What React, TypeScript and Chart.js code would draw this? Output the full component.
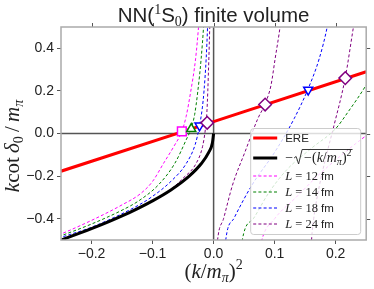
import React, { useEffect, useRef } from "react";
import { Chart, registerables } from "chart.js";
Chart.register(...registerables);

// ---------- axes ----------
const X_MIN = -0.25;
const X_MAX = 0.25;
const Y_MIN = -0.5;
const Y_MAX = 0.5;
const xTicks = [-0.2, -0.1, 0.0, 0.1, 0.2];
const xTickLabels = ["\u22120.2", "\u22120.1", "0.0", "0.1", "0.2"];
const yTicks = [-0.4, -0.2, 0.0, 0.2, 0.4];
const yTickLabels = ["\u22120.4", "\u22120.2", "0.0", "0.2", "0.4"];

// ---------- ERE (effective range expansion) ----------
const ereX = [-0.25, 0.0, 0.25];
const ereY = [-0.177, 0.056, 0.29];

// ---------- bound-state curve -sqrt(-(k/m)^2) ----------
const boundX = [-0.26, -0.25, -0.2, -0.15, -0.1, -0.07, -0.04, -0.02, -0.008, -0.002, 0.0];
const boundY = [-0.51, -0.5, -0.447, -0.387, -0.316, -0.265, -0.2, -0.141, -0.089, -0.045, 0.0];

// ---------- L = 12 fm ----------
const l12LeftX = [-0.27, -0.25, -0.2, -0.15, -0.12, -0.1, -0.082, -0.065, -0.052, -0.045, -0.0376, -0.0295, -0.0245, -0.0222];
const l12LeftY = [-0.495, -0.472, -0.408, -0.335, -0.283, -0.225, -0.14, -0.06, 0.01, 0.08, 0.195, 0.351, 0.507, 0.6];
const l12RightX = [0.074, 0.079, 0.1, 0.135, 0.17, 0.21, 0.25, 0.26];
const l12RightY = [-0.58, -0.5, -0.4, -0.3, -0.2, -0.1, -0.01, 0.01];

// ---------- L = 14 fm ----------
const l14LeftX = [-0.27, -0.25, -0.2, -0.15, -0.1226, -0.09, -0.0635, -0.045, -0.0366, -0.031, -0.0262, -0.0204, -0.0163, -0.0145];
const l14LeftY = [-0.5, -0.48, -0.425, -0.36, -0.316, -0.24, -0.14, -0.03, 0.025, 0.09, 0.19, 0.351, 0.507, 0.6];
const l14RightX = [0.0445, 0.047, 0.0656, 0.09, 0.12, 0.16, 0.2, 0.22, 0.25, 0.26];
const l14RightY = [-0.58, -0.5, -0.398, -0.28, -0.17, -0.07, 0.023, 0.1, 0.228, 0.28];

// ---------- L = 18 fm ----------
const l18LeftX = [-0.27, -0.25, -0.2, -0.1226, -0.101, -0.07, -0.0446, -0.03, -0.023, -0.0185, -0.0157, -0.0122, -0.0099, -0.0088];
const l18LeftY = [-0.51, -0.488, -0.44, -0.336, -0.297, -0.225, -0.14, -0.05, 0.037, 0.12, 0.2, 0.35, 0.5, 0.6];
const l18RightX = [0.0175, 0.0199, 0.0334, 0.0629, 0.1005, 0.132, 0.155, 0.173, 0.1866, 0.192];
const l18RightY = [-0.6, -0.5, -0.398, -0.242, -0.086, 0.07, 0.211, 0.351, 0.507, 0.6];

// ---------- L = 24 fm ----------
const l24LeftX = [-0.27, -0.25, -0.15, -0.1, -0.07, -0.05, -0.0285, -0.018, -0.0135, -0.011, -0.0095, -0.0078, -0.0063, -0.0055];
const l24LeftY = [-0.52, -0.5, -0.387, -0.315, -0.262, -0.21, -0.14, -0.06, 0.02, 0.1, 0.2, 0.35, 0.5, 0.6];
const l24MidX = [0.004, 0.0065, 0.0165, 0.031, 0.0515, 0.0725, 0.084, 0.094, 0.1008, 0.1092, 0.113];
const l24MidY = [-0.6, -0.5, -0.398, -0.242, -0.086, 0.07, 0.137, 0.226, 0.351, 0.507, 0.6];
const l24RightX = [0.159, 0.1605, 0.164, 0.173, 0.185, 0.197, 0.2157, 0.2295, 0.235];
const l24RightY = [-0.6, -0.5, -0.4, -0.25, -0.1, 0.035, 0.262, 0.507, 0.6];

// ---------- intersections (markers) ----------
const l12MarkX = [-0.052];
const l12MarkY = [0.01];
const l14MarkX = [-0.0366];
const l14MarkY = [0.022];
const l18MarkX = [-0.023, 0.155];
const l18MarkY = [0.037, 0.205];
const l24MarkX = [-0.0105, 0.0844, 0.2157];
const l24MarkY = [0.05, 0.136, 0.26];

// ---------- legend ----------
const boxSizes = ["12", "14", "18", "24"];
const lColors = ["#ff00ff", "#008000", "#0000ff", "#800080"];

const SANS = '"Liberation Sans", Arial, sans-serif';
const SERIF = '"Liberation Serif", "DejaVu Serif", serif';
const DASH = [3, 2.2];

const pts = (xs: number[], ys: number[]) => xs.map((x, i) => ({ x, y: ys[i] }));

type Run = { t: string; f: string; dy?: number };
function runsWidth(ctx: CanvasRenderingContext2D, runs: Run[]) {
  let w = 0;
  for (const r of runs) {
    ctx.font = r.f;
    w += ctx.measureText(r.t).width;
  }
  return w;
}
function drawRuns(ctx: CanvasRenderingContext2D, runs: Run[], x: number, y: number) {
  let cx = x;
  for (const r of runs) {
    ctx.font = r.f;
    ctx.fillText(r.t, cx, y + (r.dy || 0));
    cx += ctx.measureText(r.t).width;
  }
  return cx;
}

const curve = (data: any, color: string) => ({
  data,
  showLine: true,
  borderColor: color,
  borderWidth: 1,
  borderDash: DASH,
  pointRadius: 0,
  cubicInterpolationMode: "monotone",
  clip: 0,
});

const decor = {
  id: "decor",
  beforeDatasetsDraw(chart: any) {
    const { ctx, chartArea: a, scales } = chart;
    const x0 = scales.x.getPixelForValue(0);
    const y0 = scales.y.getPixelForValue(0);
    ctx.save();
    ctx.strokeStyle = "#555";
    ctx.lineWidth = 1.5;
    ctx.beginPath();
    ctx.moveTo(a.left, y0);
    ctx.lineTo(a.right, y0);
    ctx.moveTo(x0, a.top);
    ctx.lineTo(x0, a.bottom);
    ctx.stroke();
    ctx.restore();
  },
  afterDatasetsDraw(chart: any) {
    const { ctx, chartArea: a } = chart;
    const L = a.right - 116;
    const T = a.bottom - 112;
    const W = 110;
    const H = 106;
    ctx.save();
    ctx.fillStyle = "rgba(255,255,255,0.8)";
    ctx.strokeStyle = "#cccccc";
    ctx.lineWidth = 1;
    ctx.beginPath();
    ctx.roundRect(L + 0.5, T + 0.5, W, H, 3);
    ctx.fill();
    ctx.stroke();

    const rows = [10, 30, 48, 64, 80, 96];
    const hx0 = L + 3;
    const hx1 = L + 27;
    const tx = L + 35;
    ctx.fillStyle = "#222";
    ctx.textBaseline = "alphabetic";

    // ERE
    ctx.setLineDash([]);
    ctx.lineWidth = 3;
    ctx.strokeStyle = "#ff0000";
    ctx.beginPath();
    ctx.moveTo(hx0, T + rows[0]);
    ctx.lineTo(hx1, T + rows[0]);
    ctx.stroke();
    ctx.font = `11.5px ${SANS}`;
    ctx.fillText("ERE", tx, T + rows[0] + 4);

    // bound
    ctx.strokeStyle = "#000";
    ctx.beginPath();
    ctx.moveTo(hx0, T + rows[1]);
    ctx.lineTo(hx1, T + rows[1]);
    ctx.stroke();
    const by = T + rows[1] + 4;
    const cx = drawRuns(ctx, [{ t: "\u2212", f: `14px ${SERIF}` }], tx, by);
    const rx = cx + 1;
    const inner: Run[] = [
      { t: "\u2212(", f: `14px ${SERIF}` },
      { t: "k", f: `italic 14px ${SERIF}` },
      { t: "/", f: `14px ${SERIF}` },
      { t: "m", f: `italic 14px ${SERIF}` },
      { t: "\u03c0", f: `italic 10px ${SERIF}`, dy: 3 },
      { t: ")", f: `14px ${SERIF}` },
      { t: "2", f: `10px ${SERIF}`, dy: -6 },
    ];
    const iw = runsWidth(ctx, inner);
    ctx.lineWidth = 0.9;
    ctx.strokeStyle = "#222";
    ctx.beginPath();
    ctx.moveTo(rx, by - 4);
    ctx.lineTo(rx + 2, by - 5.5);
    ctx.lineTo(rx + 4.5, by + 2);
    ctx.lineTo(rx + 8, by - 12.5);
    ctx.lineTo(rx + 10 + iw + 1, by - 12.5);
    ctx.stroke();
    drawRuns(ctx, inner, rx + 10, by);

    // L entries
    for (let i = 0; i < boxSizes.length; i++) {
      const yy = T + rows[2 + i];
      ctx.strokeStyle = lColors[i];
      ctx.lineWidth = 1;
      ctx.setLineDash(DASH);
      ctx.beginPath();
      ctx.moveTo(hx0, yy);
      ctx.lineTo(hx1, yy);
      ctx.stroke();
      ctx.setLineDash([]);
      drawRuns(
        ctx,
        [
          { t: "L", f: `italic 12.5px ${SERIF}` },
          { t: " = " + boxSizes[i] + " ", f: `12.5px ${SERIF}` },
          { t: "fm", f: `11.5px ${SANS}` },
        ],
        tx,
        yy + 4
      );
    }
    ctx.restore();
  },
  afterDraw(chart: any) {
    const { ctx, chartArea: a, scales } = chart;
    ctx.save();
    // mirrored ticks
    ctx.strokeStyle = "#555";
    ctx.lineWidth = 1;
    ctx.beginPath();
    for (const v of xTicks) {
      const px = Math.round(scales.x.getPixelForValue(v)) + 0.5;
      ctx.moveTo(px, a.top - 4);
      ctx.lineTo(px, a.top);
    }
    for (const v of yTicks) {
      const py = Math.round(scales.y.getPixelForValue(v)) + 0.5;
      ctx.moveTo(a.right, py);
      ctx.lineTo(a.right + 4, py);
    }
    ctx.stroke();
    // frame
    ctx.strokeStyle = "#aaaaaa";
    ctx.lineWidth = 1.5;
    ctx.strokeRect(a.left, a.top, a.right - a.left, a.bottom - a.top);

    ctx.fillStyle = "#222";
    ctx.textBaseline = "alphabetic";
    // title
    const cxm = (a.left + a.right) / 2;
    const title: Run[] = [
      { t: "NN(", f: `20.5px ${SANS}` },
      { t: "1", f: `14px ${SERIF}`, dy: -8 },
      { t: "S", f: `20.5px ${SANS}` },
      { t: "0", f: `14px ${SERIF}`, dy: 4 },
      { t: ") finite volume", f: `20.5px ${SANS}` },
    ];
    drawRuns(ctx, title, cxm - runsWidth(ctx, title) / 2, 22);

    // x label
    const xl: Run[] = [
      { t: "(", f: `21px ${SERIF}` },
      { t: "k", f: `italic 21px ${SERIF}` },
      { t: "/", f: `21px ${SERIF}` },
      { t: "m", f: `italic 21px ${SERIF}` },
      { t: "\u03c0", f: `italic 14px ${SERIF}`, dy: 4 },
      { t: ")", f: `21px ${SERIF}` },
      { t: "2", f: `14px ${SERIF}`, dy: -9 },
    ];
    drawRuns(ctx, xl, cxm - runsWidth(ctx, xl) / 2, 278);

    // y label
    const yl: Run[] = [
      { t: "k", f: `italic 21px ${SERIF}` },
      { t: "cot\u2009", f: `21px ${SERIF}` },
      { t: "\u03b4", f: `italic 21px ${SERIF}` },
      { t: "0", f: `14px ${SERIF}`, dy: 4 },
      { t: "\u2009/\u2009", f: `21px ${SERIF}` },
      { t: "m", f: `italic 21px ${SERIF}` },
      { t: "\u03c0", f: `italic 14px ${SERIF}`, dy: 4 },
    ];
    ctx.translate(19, 146);
    ctx.rotate(-Math.PI / 2);
    drawRuns(ctx, yl, -runsWidth(ctx, yl) / 2, 0);
    ctx.restore();
  },
};

export default function App() {
  const ref = useRef<HTMLCanvasElement | null>(null);
  useEffect(() => {
    if (!ref.current) return;
    const marker = (xs: number[], ys: number[], color: string, style: string, r: number, rot = 0) => ({
      data: pts(xs, ys),
      showLine: false,
      pointStyle: style,
      pointRadius: r,
      pointRotation: rot,
      pointBorderColor: color,
      pointBackgroundColor: "#ffffff",
      pointBorderWidth: 1.5,
      borderColor: color,
      backgroundColor: "#ffffff",
    });
    const chart = new Chart(ref.current, {
      type: "scatter",
      data: {
        datasets: [
          marker(l24MarkX, l24MarkY, "#800080", "rectRot", 6.3),
          marker(l18MarkX, l18MarkY, "#0000ff", "triangle", 5.2, 180),
          marker(l14MarkX, l14MarkY, "#008000", "triangle", 5.2),
          marker(l12MarkX, l12MarkY, "#ff00ff", "rect", 6.2),
          {
            data: pts(ereX, ereY),
            showLine: true,
            borderColor: "#ff0000",
            borderWidth: 3,
            pointRadius: 0,
            tension: 0,
            clip: 0,
          },
          {
            data: pts(boundX, boundY),
            showLine: true,
            borderColor: "#000000",
            borderWidth: 3,
            pointRadius: 0,
            cubicInterpolationMode: "monotone",
            clip: 0,
          },
          curve(pts(l12LeftX, l12LeftY), "#ff00ff"),
          curve(pts(l12RightX, l12RightY), "#ff00ff"),
          curve(pts(l14LeftX, l14LeftY), "#008000"),
          curve(pts(l14RightX, l14RightY), "#008000"),
          curve(pts(l18LeftX, l18LeftY), "#0000ff"),
          curve(pts(l18RightX, l18RightY), "#0000ff"),
          curve(pts(l24LeftX, l24LeftY), "#800080"),
          curve(pts(l24MidX, l24MidY), "#800080"),
          curve(pts(l24RightX, l24RightY), "#800080"),
        ] as any,
      },
      options: {
        responsive: false,
        animation: false,
        events: [],
        layout: { padding: { top: 27, right: 3, left: 0, bottom: 0 } },
        plugins: { legend: { display: false }, tooltip: { enabled: false }, title: { display: false } },
        scales: {
          x: {
            type: "linear",
            min: X_MIN,
            max: X_MAX,
            afterBuildTicks: (s: any) => {
              s.ticks = xTicks.map((v) => ({ value: v }));
            },
            afterFit: (s: any) => {
              s.height = 49;
            },
            ticks: {
              callback: (_v: any, i: number) => xTickLabels[i],
              font: { family: SANS, size: 14 },
              color: "#222",
              padding: 2,
              maxRotation: 0,
              autoSkip: false,
            },
            grid: { drawOnChartArea: false, drawTicks: true, tickLength: 4, tickColor: "#555", tickWidth: 1 },
            border: { display: false },
          },
          y: {
            type: "linear",
            min: Y_MIN,
            max: Y_MAX,
            afterBuildTicks: (s: any) => {
              s.ticks = yTicks.map((v) => ({ value: v }));
            },
            afterFit: (s: any) => {
              s.width = 61;
            },
            ticks: {
              callback: (_v: any, i: number) => yTickLabels[i],
              font: { family: SANS, size: 14 },
              color: "#222",
              padding: 3,
              autoSkip: false,
            },
            grid: { drawOnChartArea: false, drawTicks: true, tickLength: 4, tickColor: "#555", tickWidth: 1 },
            border: { display: false },
          },
        },
      } as any,
      plugins: [decor],
    });
    return () => chart.destroy();
  }, []);
  return (
    <div style={{ position: "fixed", left: 0, top: 0, width: 374, height: 289, background: "#fff" }}>
      <canvas ref={ref} width={374} height={289} style={{ display: "block" }} />
    </div>
  );
}
